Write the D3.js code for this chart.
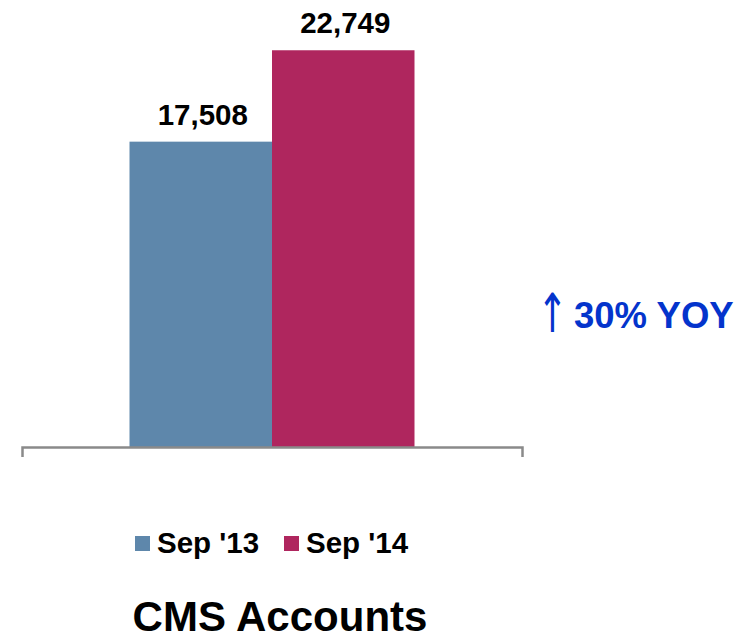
<!DOCTYPE html>
<html>
<head>
<meta charset="utf-8">
<script src="https://cdn.jsdelivr.net/npm/d3@7"></script>
<style>
  html, body { margin: 0; padding: 0; background: #fff; }
  text { font-family: "Liberation Sans", Arial, sans-serif; font-weight: bold; }
</style>
</head>
<body>
<svg id="chart" width="750" height="640"></svg>
<script>
const categories = ["CMS Accounts"];
const seriesNames = ["Sep '13", "Sep '14"];
const seriesValues = [17508, 22749];
const seriesColors = ["#5e87ab", "#af265e"];
const chartTitle = "CMS Accounts";
const yoyArrow = "↑";
const yoyText = "30% YOY";

const svg = d3.select("#chart");

const x0 = d3.scaleBand().domain(categories).range([22, 522]).paddingInner(0).paddingOuter(0.3772);
const x1 = d3.scaleBand().domain(seriesNames).range([0, x0.bandwidth()]).padding(0);
const y = d3.scaleLinear().domain([0, 25000]).range([447, 11]);

const data = seriesNames.map((s, i) => ({ cat: categories[0], name: s, value: seriesValues[i], color: seriesColors[i] }));

svg.selectAll("rect.bar").data(data).enter().append("rect")
  .attr("class", "bar")
  .attr("x", d => x0(d.cat) + x1(d.name))
  .attr("y", d => y(d.value))
  .attr("width", x1.bandwidth())
  .attr("height", d => y(0) - y(d.value))
  .attr("fill", d => d.color);

svg.selectAll("text.lbl").data(data).enter().append("text")
  .attr("class", "lbl")
  .attr("x", d => x0(d.cat) + x1(d.name) + x1.bandwidth() / 2 + 2)
  .attr("y", d => y(d.value) - 17)
  .attr("text-anchor", "middle")
  .attr("font-size", 29.5)
  .attr("fill", "#000")
  .text(d => d3.format(",")(d.value));

const axis = svg.append("g").attr("transform", `translate(0,${y(0)})`)
  .call(d3.axisBottom(x0).tickSizeInner(0).tickSizeOuter(10).tickFormat(""));
axis.selectAll(".tick").remove();
axis.select(".domain").attr("stroke", "#8a8a8a").attr("stroke-width", 2.5).attr("fill", "none");

// YOY annotation
svg.append("text")
  .attr("transform", "translate(552.5,332) scale(0.68,1)")
  .attr("text-anchor", "middle")
  .style("font-family", "'DejaVu Sans'").style("font-weight", "normal")
  .attr("font-size", 54).attr("fill", "#0434cc")
  .text(yoyArrow);
svg.append("text").attr("x", 574).attr("y", 328).attr("fill", "#0434cc").attr("font-size", 36.5).text(yoyText);

// Legend
const legendX = [135, 284];
const leg = svg.selectAll("g.leg").data(data).enter().append("g")
  .attr("class", "leg")
  .attr("transform", (d, i) => `translate(${legendX[i]},536)`);
leg.append("rect").attr("width", 15).attr("height", 15).attr("fill", d => d.color);
leg.append("text").attr("x", 22).attr("y", 17).attr("font-size", 29.5).attr("fill", "#000").text(d => d.name);

// Title
svg.append("text").attr("x", 280).attr("y", 631).attr("text-anchor", "middle")
  .attr("font-size", 42).attr("fill", "#000").text(chartTitle);
</script>
</body>
</html>
